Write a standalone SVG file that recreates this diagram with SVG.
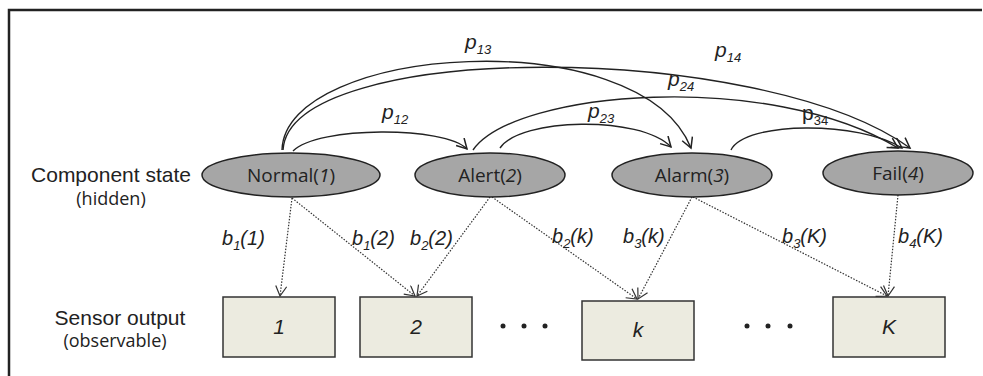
<svg xmlns="http://www.w3.org/2000/svg" width="983" height="376" viewBox="0 0 983 376">
<style>
.frame{fill:none;stroke:#222;stroke-width:2.5}
.state{fill:#a6a6a6;stroke:#222;stroke-width:1.5}
.obs{fill:#ecebe0;stroke:#333;stroke-width:1.5}
.st{font-family:"Open Sans","Noto Sans",sans-serif;font-size:19px;fill:#222;text-anchor:middle}
.lbl{font-family:"Liberation Sans",Arial,sans-serif;font-size:21px;fill:#222;text-anchor:middle}
.sub{font-family:"Open Sans","Noto Sans",sans-serif;font-size:18px;fill:#222;text-anchor:middle}
.p{font-family:"Liberation Sans",Arial,sans-serif;font-size:21px;font-style:italic;fill:#222}
.pu{font-family:"Liberation Sans",Arial,sans-serif;font-size:21px;fill:#222}
.b{font-family:"Liberation Sans",Arial,sans-serif;font-size:20px;font-style:italic;fill:#222}
.num{font-family:"Liberation Sans",Arial,sans-serif;font-size:21px;font-style:italic;fill:#222;text-anchor:middle}
.s{font-size:13px}
.arc{fill:none;stroke:#222;stroke-width:1.4;marker-end:url(#v)}
.dot{fill:none;stroke:#333;stroke-width:1.2;stroke-dasharray:1.5 1.5;marker-end:url(#vd)}
</style>
<defs>
<marker id="v" markerUnits="userSpaceOnUse" markerWidth="14" markerHeight="14" refX="11" refY="6" orient="auto">
<path d="M1,0.5 L11,6 L1,11.5" fill="none" stroke="#222" stroke-width="1.5"/>
</marker>
<marker id="vd" markerUnits="userSpaceOnUse" markerWidth="14" markerHeight="14" refX="11" refY="6" orient="auto">
<path d="M1,0.5 L11,6 L1,11.5" fill="none" stroke="#333" stroke-width="1.2"/>
</marker>
</defs>
<path class="frame" d="M9,376 V10 H982"/>

<g id="labels-left">
<text class="lbl" x="111" y="182">Component state</text>
<text class="sub" x="111" y="205">(hidden)</text>
<text class="lbl" x="120" y="325">Sensor output</text>
<text class="sub" x="115" y="347">(observable)</text>
</g>

<g id="connectors">
<path class="arc" d="M282,150 C285,45 640,20 691,148"/>
<path class="arc" d="M283,150 C290,40 760,40 910,148"/>
<path class="arc" d="M293,151 C318,126 445,126 467,149"/>
<path class="arc" d="M473,150 C515,90 770,70 898,148"/>
<path class="arc" d="M500,148 C520,118 640,115 671,147"/>
<path class="arc" d="M731,150 C745,121 860,121 902,148"/>
<path class="dot" d="M292,198 L280,296"/>
<path class="dot" d="M292,198 L415,296"/>
<path class="dot" d="M490,197 L417,296"/>
<path class="dot" d="M492,197 L637,299"/>
<path class="dot" d="M692,197 L638,299"/>
<path class="dot" d="M693,197 L887,296"/>
<path class="dot" d="M898,195 L888,296"/>
<text class="p" x="465" y="49">p<tspan class="s" dy="5">13</tspan></text>
<text class="p" x="715" y="57">p<tspan class="s" dy="5">14</tspan></text>
<text class="p" x="668" y="86">p<tspan class="s" dy="5">24</tspan></text>
<text class="p" x="382" y="119">p<tspan class="s" dy="5">12</tspan></text>
<text class="p" x="588" y="118">p<tspan class="s" dy="5">23</tspan></text>
<text class="pu" x="802" y="120">p<tspan class="s" dy="5">34</tspan></text>
<text class="b" x="222" y="245">b<tspan class="s" dy="5">1</tspan><tspan dy="-5">(1)</tspan></text>
<text class="b" x="352" y="245">b<tspan class="s" dy="5">1</tspan><tspan dy="-5">(2)</tspan></text>
<text class="b" x="410" y="245">b<tspan class="s" dy="5">2</tspan><tspan dy="-5">(2)</tspan></text>
<text class="b" x="552" y="243">b<tspan class="s" dy="5">2</tspan><tspan dy="-5">(k)</tspan></text>
<text class="b" x="623" y="243">b<tspan class="s" dy="5">3</tspan><tspan dy="-5">(k)</tspan></text>
<text class="b" x="782" y="243">b<tspan class="s" dy="5">3</tspan><tspan dy="-5">(K)</tspan></text>
<text class="b" x="898" y="243">b<tspan class="s" dy="5">4</tspan><tspan dy="-5">(K)</tspan></text>
</g>

<g id="state-normal">
<ellipse class="state" cx="291" cy="175" rx="89" ry="22"/>
<text class="st" x="291" y="182">Normal(<tspan font-style="italic">1</tspan>)</text>
</g>
<g id="state-alert">
<ellipse class="state" cx="490" cy="175" rx="75" ry="22"/>
<text class="st" x="490" y="182">Alert(<tspan font-style="italic">2</tspan>)</text>
</g>
<g id="state-alarm">
<ellipse class="state" cx="692" cy="175" rx="80" ry="22"/>
<text class="st" x="692" y="182">Alarm(<tspan font-style="italic">3</tspan>)</text>
</g>
<g id="state-fail">
<ellipse class="state" cx="898" cy="173" rx="75" ry="22"/>
<text class="st" x="898" y="180">Fail(<tspan font-style="italic">4</tspan>)</text>
</g>

<g id="obs-1">
<rect class="obs" x="223" y="297" width="112" height="60"/>
<text class="num" x="279" y="334">1</text>
</g>
<g id="obs-2">
<rect class="obs" x="360" y="297" width="112" height="60"/>
<text class="num" x="416" y="334">2</text>
</g>
<g id="obs-k">
<rect class="obs" x="582" y="301" width="112" height="59"/>
<text class="num" x="638" y="337">k</text>
</g>
<g id="obs-K">
<rect class="obs" x="833" y="297" width="112" height="60"/>
<text class="num" x="889" y="334">K</text>
</g>

<g id="ellipsis">
<circle cx="503" cy="326" r="2.5" fill="#222"/>
<circle cx="524" cy="326" r="2.5" fill="#222"/>
<circle cx="545" cy="326" r="2.5" fill="#222"/>
<circle cx="747" cy="326" r="2.5" fill="#222"/>
<circle cx="768" cy="326" r="2.5" fill="#222"/>
<circle cx="790" cy="326" r="2.5" fill="#222"/>
</g>
</svg>
